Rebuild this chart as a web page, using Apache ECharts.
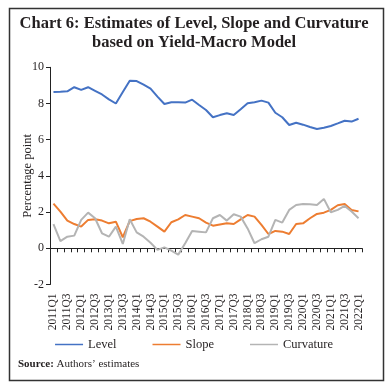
<!DOCTYPE html>
<html>
<head>
<meta charset="utf-8">
<script src="https://cdn.jsdelivr.net/npm/echarts@6/dist/echarts.min.js"></script>
<style>html,body{margin:0;padding:0;background:#fff}#c{width:388px;height:387px}</style>
</head>
<body>
<div id="c"></div>
<script>
// quarters 2011Q1 .. 2022Q1
const categories = [];
for (let y = 2011; y <= 2022; y++) {
  for (let q = 1; q <= 4; q++) {
    if (y === 2022 && q > 1) break;
    categories.push(y + 'Q' + q);
  }
}
const level = [8.64, 8.65, 8.67, 8.9, 8.75, 8.9, 8.7, 8.5, 8.23, 8.0,
  8.64, 9.26, 9.24, 9.04, 8.82, 8.38, 7.97, 8.07, 8.07, 8.05,
  8.21, 7.92, 7.64, 7.24, 7.36, 7.46, 7.36, 7.68, 8.01, 8.07,
  8.16, 8.05, 7.49, 7.24, 6.81, 6.94, 6.83, 6.70, 6.59, 6.66,
  6.76, 6.9, 7.05, 7.0, 7.16];
const slope = [2.47, 2.03, 1.53, 1.34, 1.2, 1.57, 1.6, 1.53, 1.38, 1.47,
  0.61, 1.5, 1.62, 1.66, 1.47, 1.2, 0.92, 1.44, 1.6, 1.84,
  1.75, 1.66, 1.42, 1.25, 1.32, 1.38, 1.34, 1.6, 1.84, 1.75,
  1.29, 0.79, 0.96, 0.92, 0.79, 1.34, 1.38, 1.66, 1.9, 1.97,
  2.12, 2.38, 2.45, 2.12, 2.04];
const curvature = [1.34, 0.4, 0.64, 0.7, 1.57, 1.97, 1.66, 0.83, 0.64, 1.2,
  0.24, 1.6, 0.88, 0.64, 0.31, -0.09, 0.05, -0.13, -0.35, 0.28,
  0.96, 0.92, 0.88, 1.66, 1.84, 1.53, 1.88, 1.75, 1.1, 0.28,
  0.5, 0.64, 1.57, 1.42, 2.12, 2.39, 2.45, 2.43, 2.39, 2.73,
  1.99, 2.12, 2.34, 2.03, 1.66];
const yTicks = [-2, 0, 2, 4, 6, 8, 10];

const serif = '"Liberation Serif", "DejaVu Serif", serif';
const chart = echarts.init(document.getElementById('c'));
const axisColor = '#222';
chart.setOption({
  animation: false,
  backgroundColor: '#fff',
  title: {
    text: 'Chart 6: Estimates of Level, Slope and Curvature\nbased on Yield-Macro Model',
    left: 'center', top: 9,
    textStyle: {fontFamily: serif, fontSize: 16.5, fontWeight: 'bold', color: '#231f20', lineHeight: 19}
  },
  legend: {
    top: 333, left: 'center',
    icon: 'rect', itemWidth: 28, itemHeight: 1.5, itemGap: 36,
    textStyle: {fontFamily: serif, fontSize: 12.5, color: '#231f20'},
    data: ['Level', 'Slope', 'Curvature']
  },
  grid: {left: 50, right: 26, top: 67.3, bottom: 102.5, containLabel: false},
  xAxis: [{
    type: 'category', data: categories, boundaryGap: true,
    axisLine: {show: true, onZero: true, lineStyle: {color: axisColor, width: 1}},
    axisTick: {show: true, interval: 0, length: 4, lineStyle: {color: axisColor}},
    axisLabel: {show: false},
    splitLine: {show: false}
  }, {
    type: 'category', data: categories, boundaryGap: true, position: 'bottom',
    axisLine: {show: false, onZero: false},
    axisTick: {show: false},
    axisLabel: {show: true, interval: 1, rotate: 90, margin: 9,
      fontFamily: serif, fontSize: 11.5, color: '#231f20'},
    splitLine: {show: false}
  }],
  yAxis: {
    type: 'value', min: yTicks[0], max: yTicks[yTicks.length - 1], interval: 2,
    name: 'Percentage point', nameLocation: 'middle', nameGap: 16, nameMoveOverlap: false,
    nameTextStyle: {fontFamily: serif, fontSize: 12.5, color: '#231f20'},
    axisLine: {show: true, lineStyle: {color: axisColor, width: 1}},
    axisTick: {show: true, length: 4, lineStyle: {color: axisColor}},
    axisLabel: {fontFamily: serif, fontSize: 12, color: '#231f20', margin: 6},
    splitLine: {show: false}
  },
  series: [
    {name: 'Level', type: 'line', data: level, showSymbol: false, xAxisIndex: 0,
      lineStyle: {color: '#4472C4', width: 2}, itemStyle: {color: '#4472C4'}},
    {name: 'Slope', type: 'line', data: slope, showSymbol: false, xAxisIndex: 0,
      lineStyle: {color: '#ED7D31', width: 2}, itemStyle: {color: '#ED7D31'}},
    {name: 'Curvature', type: 'line', data: curvature, showSymbol: false, xAxisIndex: 0,
      lineStyle: {color: '#B4B4B4', width: 2}, itemStyle: {color: '#B4B4B4'}}
  ],
  graphic: [
    {type: 'rect', left: 7, top: 6, shape: {x: 0, y: 0, width: 374, height: 372},
      style: {fill: 'none', stroke: '#333', lineWidth: 1.5}, silent: true},
    {type: 'text', left: 18, top: 359,
      style: {text: '{b|Source:} Authors’ estimates', fontFamily: serif, fontSize: 11, fill: '#231f20',
        rich: {b: {fontFamily: serif, fontSize: 11, fontWeight: 'bold', fill: '#231f20'}}}}
  ]
});
</script>
</body>
</html>
